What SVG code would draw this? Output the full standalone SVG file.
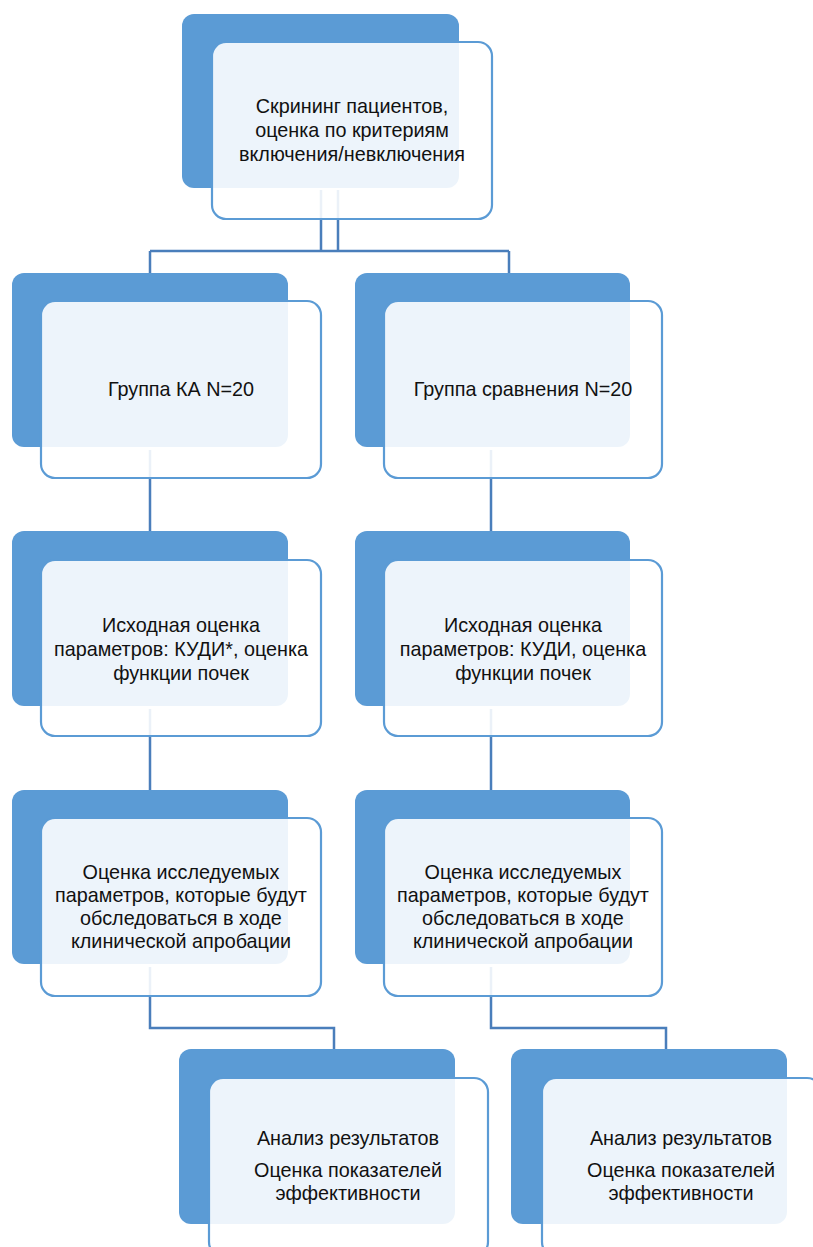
<svg xmlns="http://www.w3.org/2000/svg" width="813" height="1247" viewBox="0 0 813 1247">
<style>
.back{fill:#5B9BD5}
.front{fill:#ffffff;fill-opacity:0.89;stroke:#5B9BD5;stroke-width:2.2}
.conn{fill:none;stroke:#4A7EBB;stroke-width:2.5}
text{font-family:"Liberation Sans",Arial,sans-serif;font-size:19.8px;fill:#111111;text-anchor:middle}
</style>
<rect width="813" height="1247" fill="#ffffff"/>
<!-- back shapes -->
<g id="backs">
<rect class="back" x="182" y="14" width="277" height="174" rx="12"/>
<rect class="back" x="12" y="273" width="276" height="174" rx="12"/>
<rect class="back" x="355" y="273" width="275" height="174" rx="12"/>
<rect class="back" x="12" y="531" width="276" height="175" rx="12"/>
<rect class="back" x="355" y="531" width="275" height="175" rx="12"/>
<rect class="back" x="12" y="790" width="276" height="174" rx="12"/>
<rect class="back" x="355" y="790" width="275" height="174" rx="12"/>
<rect class="back" x="179" y="1049" width="276" height="175" rx="12"/>
<rect class="back" x="511" y="1049" width="276" height="175" rx="12"/>
</g>
<g id="connectors">
<path class="conn" d="M321,190 V251 M338,190 V251 M150,251 H509 M150,251 V273 M509,251 V273"/>
<path class="conn" d="M150,450 V531 M491,450 V531"/>
<path class="conn" d="M150,709 V790 M491,709 V790"/>
<path class="conn" d="M150,967 V1028 H334 V1049 M491,967 V1028 H666 V1049"/>
</g>
<g id="n1">
<rect class="front" x="212" y="42" width="280" height="177" rx="14"/>
<text x="352" y="113">Скрининг пациентов,</text>
<text x="352" y="137">оценка по критериям</text>
<text x="352" y="161">включения/невключения</text>
</g>
<g id="n2">
<rect class="front" x="41" y="301" width="280" height="177" rx="14"/>
<text x="181" y="396">Группа КА N=20</text>
</g>
<g id="n3">
<rect class="front" x="384" y="301" width="278" height="177" rx="14"/>
<text x="523" y="396">Группа сравнения N=20</text>
</g>
<g id="n4">
<rect class="front" x="41" y="560" width="280" height="176" rx="14"/>
<text x="181" y="632">Исходная оценка</text>
<text x="181" y="656">параметров: КУДИ*, оценка</text>
<text x="181" y="680">функции почек</text>
</g>
<g id="n5">
<rect class="front" x="384" y="560" width="278" height="176" rx="14"/>
<text x="523" y="632">Исходная оценка</text>
<text x="523" y="656">параметров: КУДИ, оценка</text>
<text x="523" y="680">функции почек</text>
</g>
<g id="n6">
<rect class="front" x="41" y="818" width="280" height="178" rx="14"/>
<text x="181" y="879">Оценка исследуемых</text>
<text x="181" y="902">параметров, которые будут</text>
<text x="181" y="925">обследоваться в ходе</text>
<text x="181" y="948">клинической апробации</text>
</g>
<g id="n7">
<rect class="front" x="384" y="818" width="278" height="178" rx="14"/>
<text x="523" y="879">Оценка исследуемых</text>
<text x="523" y="902">параметров, которые будут</text>
<text x="523" y="925">обследоваться в ходе</text>
<text x="523" y="948">клинической апробации</text>
</g>
<g id="n8">
<rect class="front" x="209" y="1078" width="279" height="178" rx="14"/>
<text x="348" y="1145">Анализ результатов</text>
<text x="348" y="1177">Оценка показателей</text>
<text x="348" y="1200">эффективности</text>
</g>
<g id="n9">
<rect class="front" x="542" y="1078" width="279" height="178" rx="14"/>
<text x="681" y="1145">Анализ результатов</text>
<text x="681" y="1177">Оценка показателей</text>
<text x="681" y="1200">эффективности</text>
</g>
</svg>
